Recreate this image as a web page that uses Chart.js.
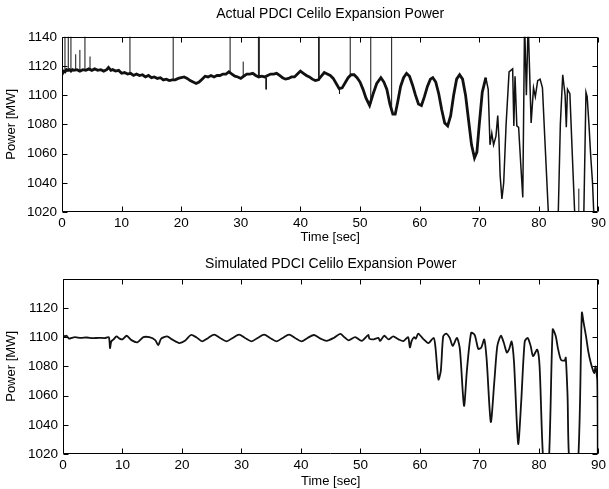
<!DOCTYPE html>
<html><head><meta charset="utf-8">
<script src="https://cdn.jsdelivr.net/npm/chart.js@4/dist/chart.umd.min.js"></script>
<style>
html,body{margin:0;padding:0;background:#fff;}
.box{width:609px;position:relative;}
canvas{display:block;}
</style></head><body>
<div class="box" style="height:245px"><canvas id="c1"></canvas></div>
<div class="box" style="height:244px"><canvas id="c2"></canvas></div>
<script>
// ---------- data ----------
const actualTime = [0,0.25,0.5,0.75,1.0,1.25,1.5,1.75,2.0,2.5,3.0,3.5,4.0,4.5,5.0,5.5,6.0,6.5,7.0,7.5,7.8,8.2,8.5,9.0,9.5,10.0,10.5,11.0,11.5,12.0,12.5,13.0,13.5,14.0,14.5,15.0,15.5,16.0,16.5,17.0,17.5,18.0,18.5,19.0,19.5,20.0,20.5,21.0,21.5,22.0,22.5,23.0,23.5,24.0,24.5,25.0,25.5,26.0,26.5,27.0,27.5,28.0,28.5,29.0,29.5,30.0,30.5,31.0,31.5,32.0,32.5,33.0,33.5,34.0,34.5,35.0,35.5,36.0,36.5,37.0,37.5,38.0,38.5,39.0,39.5,40.0,40.5,41.0,41.5,42.0,42.5,43.0,43.5,44.0,44.5,45.0,45.5,46.0,46.5,47.0,47.5,48.0,48.5,49.0,49.5,50.0,50.5,51.0,51.6,52.2,52.8,53.5,54.0,54.5,55.0,55.5,55.9,56.3,56.8,57.3,57.8,58.3,58.8,59.3,59.8,60.3,60.8,61.3,61.8,62.2,62.7,63.2,63.7,64.2,64.7,65.2,65.7,66.2,66.7,67.2,67.7,68.2,68.7,69.2,69.6,70.0,70.5,71.1,71.5,71.8,72.1,72.4,72.8,73.1,73.3,73.5,73.8,74.1,74.5,75.0,75.3,75.6,75.8,76.0,76.3,76.6,77.0,77.3,77.6,77.9,78.2,78.7,79.1,79.4,79.8,80.2,80.6,81.0,81.7,83.2,83.6,84.0,84.4,84.6,84.8,85.2,85.6,86.1,87.5,87.9,88.1,88.4,88.7,89.0,89.3,90];
const actualPower = [1114,1116.5,1116,1117.5,1117,1117.5,1116.5,1117.5,1117,1117.5,1116.5,1117.5,1117,1118,1117,1118,1117,1117.5,1116.5,1117.5,1119,1117,1117.5,1116.5,1117,1115,1115.5,1114.5,1115,1113.5,1114.5,1113.5,1114,1112.5,1113.5,1112,1112.5,1111.5,1112,1110.5,1111,1110,1110.5,1110.5,1111.5,1112,1112.5,1111.5,1110,1109,1108,1109,1111,1113,1112.5,1113.5,1112.5,1113.5,1113.5,1114.5,1114.5,1116,1114.5,1113,1112.5,1111.5,1113,1114.5,1114.5,1115,1113.5,1112.5,1113,1112.5,1113.5,1114.5,1114.5,1115,1113.5,1112,1111,1111.5,1112.5,1112.5,1114.5,1116.5,1115,1113.5,1112.5,1111,1110,1110.5,1113,1115.5,1114.5,1113.5,1111.5,1108,1104.5,1105,1108.5,1112,1114,1114,1112,1109,1104,1098,1093,1101,1108,1112,1109,1104,1094,1087,1087,1095,1106,1112,1115,1113,1107,1100,1094,1093,1099,1106,1111,1112,1109,1101,1090,1081,1079,1086,1100,1111,1114,1111,1100,1083,1066,1057,1061,1080,1102,1112,1104,1066,1074,1066,1072,1086,1070,1045,1029,1040,1080,1116,1117,1118,1079,1113,1079,1078,1050,1030,1150,1100,1150,1081,1105,1099,1110,1111,1105,1070,1010,1010,1080,1114,1100,1078,1104,1101,1060,1010,1010,1102,1099,1080,1058,1040,1010,1010];
const spikeTime = [0.5,1.05,1.5,2.3,3.0,3.85,4.7,11.4,18.65,28.2,30.4,32.95,33.1,34.25,43.05,43.15,46.55,48.35,51.8,55.3,86.7];
const spikeBase = [1116,1117,1117,1117,1117,1117,1117,1115,1110,1116,1112,1113,1112,1112,1110,1110,1104,1114,1094,1089,1010];
const spikeTop  = [1150,1150,1150,1128,1131,1150,1126.5,1150,1150,1150,1123,1150,1150,1104,1150,1150,1101,1150,1150,1150,1036];

const simTime = [0,0.3,0.6,1.0,1.5,2.0,3.0,4.0,5.0,6.0,7.0,7.7,7.9,8.1,8.5,9.0,9.5,10.0,10.7,11.5,12.5,13.5,14.5,15.5,16.0,16.5,17.5,18.3,19.5,20.5,21.5,22.4,23.4,24.4,25.4,26.4,27.5,28.5,29.6,30.6,31.7,32.7,33.8,34.8,35.9,36.9,38.0,39.0,40.1,41.1,42.2,43.3,44.3,45.5,46.6,47.3,48.0,49.1,50.2,51.3,51.5,52.2,53.0,53.3,54.0,54.7,55.5,56.4,57.2,58.0,58.3,58.6,59.0,59.3,59.7,60.5,61.4,62.3,62.6,63.1,63.5,63.9,64.4,65.0,65.5,66.2,66.7,67.4,67.9,68.6,69.2,69.8,70.3,70.8,71.2,71.9,72.5,73.0,73.6,74.1,74.6,75.0,75.4,75.8,76.5,77.0,77.6,78.1,78.6,79.0,79.7,80.1,80.8,81.6,82.3,82.8,83.2,83.7,84.3,84.5,84.8,85.2,86.5,87.2,87.5,87.9,88.3,88.7,89.1,89.3,89.5,89.8,89.9,90];
const simPower = [1101.5,1100.5,1101,1099,1099.5,1100,1099.5,1099.8,1099.3,1099.6,1099.4,1100,1092.5,1097,1098.5,1100.5,1099,1098.5,1101,1098,1096.5,1100,1100,1098,1094.5,1099,1100.5,1098.5,1096,1097.5,1101.5,1100,1097.2,1099.5,1101.8,1099.5,1097.2,1099.5,1101.8,1099.5,1097.2,1099.5,1101.8,1099.5,1097.2,1099.5,1101.8,1099.5,1097.2,1099.5,1101.5,1099,1097.5,1099.5,1102.3,1100,1097.8,1100,1097.5,1101.5,1099,1098.5,1099.5,1097.5,1101,1098.5,1100.5,1098.5,1097.3,1100,1093,1097.5,1100,1099,1102.5,1099,1096,1099.5,1093,1071,1077,1100.5,1102.5,1099.5,1094,1099.5,1092,1053,1078,1103,1101.5,1092,1093,1098.5,1085,1042,1070,1094,1101,1096,1089.5,1092,1097,1083,1027,1055,1097,1099.5,1094,1087,1091.5,1080,1010,1010,1105.3,1101,1092,1084.5,1084,1086,1060,1010,1010,1116.8,1110,1100.7,1090,1082.5,1077,1075.5,1080,1070,1010,1010];

const xTickValues = [0,10,20,30,40,50,60,70,80,90];
const yTickValues = [1020,1040,1060,1080,1100,1120,1140];
const simHiddenTickLabels = [1140];

// ---------- helpers ----------
Chart.defaults.font.family = "'Liberation Sans', Arial, Helvetica, sans-serif";
Chart.defaults.color = '#000';

function pts(xs, ys){ return xs.map((x,i)=>({x:x,y:ys[i]})); }
function spikePts(){
  const out=[];
  spikeTime.forEach((t,i)=>{ out.push({x:t,y:spikeBase[i]}); out.push({x:t,y:spikeTop[i]}); out.push({x:t,y:null}); });
  return out;
}

const boxTicks = {
  id:'boxTicks',
  afterDatasetsDraw(chart){
    const {ctx, chartArea:a, scales:{x,y}} = chart;
    ctx.save();
    ctx.strokeStyle='#000'; ctx.lineWidth=1;
    const L=Math.round(a.left)+0.5, R=Math.round(a.right)-0.5, T=Math.round(a.top)+0.5, B=Math.round(a.bottom)-0.5;
    ctx.beginPath();
    ctx.rect(L,T,R-L,B-T);
    const len=5;
    x.ticks.forEach(t=>{ const p=Math.round(x.getPixelForValue(t.value))+0.5;
      ctx.moveTo(p,B); ctx.lineTo(p,B-len); ctx.moveTo(p,T); ctx.lineTo(p,T+len); });
    y.ticks.forEach(t=>{ const p=Math.round(y.getPixelForValue(t.value))+0.5;
      ctx.moveTo(L,p); ctx.lineTo(L+len,p); ctx.moveTo(R,p); ctx.lineTo(R-len,p); });
    ctx.stroke();
    ctx.restore();
  }
};

function makeOptions(o){
  return {
    responsive:true, maintainAspectRatio:false, animation:false, devicePixelRatio:1,
    layout:{padding:o.padding},
    plugins:{
      legend:{display:false}, tooltip:{enabled:false},
      title:{display:true, fullSize:false, text:o.title, color:'#000', font:{size:14, weight:'normal'}, padding:o.titlePad}
    },
    scales:{
      x:{type:'linear', min:0, max:90,
        afterBuildTicks: s=>{ s.ticks = xTickValues.map(v=>({value:v})); },
        ticks:{font:{size:13.5}, color:'#000', padding:3, maxRotation:0, autoSkip:false},
        grid:{display:false, drawTicks:false}, border:{display:false},
        title:{display:true, text:'Time [sec]', font:{size:13}, color:'#000', padding:{top:0,bottom:0}},
        afterFit: s=>{ s.height=o.xHeight; }
      },
      y:{type:'linear', min:1020, max:1140,
        afterBuildTicks: s=>{ s.ticks = yTickValues.map(v=>({value:v})); },
        ticks:{font:{size:13.5}, color:'#000', padding:5, callback:o.yCallback},
        grid:{display:false, drawTicks:false}, border:{display:false},
        title:{display:true, text:'Power [MW]', font:{size:13}, color:'#000', padding:{top:4,bottom:2}},
        afterFit: s=>{ s.width=o.yWidth; }
      }
    }
  };
}

new Chart(document.getElementById('c1'), {
  type:'line',
  data:{datasets:[
    {data:pts(actualTime, actualPower), borderColor:'#111', borderWidth:2.8, pointRadius:0, tension:0, clip:0,
     segment:{borderWidth: c => (c.p0.parsed.x >= 71 ? 1.5 : 2.8)}},
    {data:spikePts(), borderColor:'#111', borderWidth:1, pointRadius:0, tension:0, clip:0, spanGaps:false}
  ]},
  options: makeOptions({title:'Actual PDCI Celilo Expansion Power', padding:{left:0,right:10,top:0,bottom:0},
    titlePad:{top:6,bottom:14}, xHeight:33, yWidth:62, yCallback:v=>v}),
  plugins:[boxTicks]
});

new Chart(document.getElementById('c2'), {
  type:'line',
  data:{datasets:[
    {data:pts(simTime, simPower), borderColor:'#111', borderWidth:1.8, pointRadius:0, tension:0.25, clip:0}
  ]},
  options: makeOptions({title:'Simulated PDCI Celilo Expansion Power', padding:{left:0,right:8,top:0,bottom:0},
    titlePad:{top:11,bottom:6}, xHeight:35, yWidth:63, yCallback:v=>(simHiddenTickLabels.includes(v)?'':v)}),
  plugins:[boxTicks]
});
</script>
</body></html>
